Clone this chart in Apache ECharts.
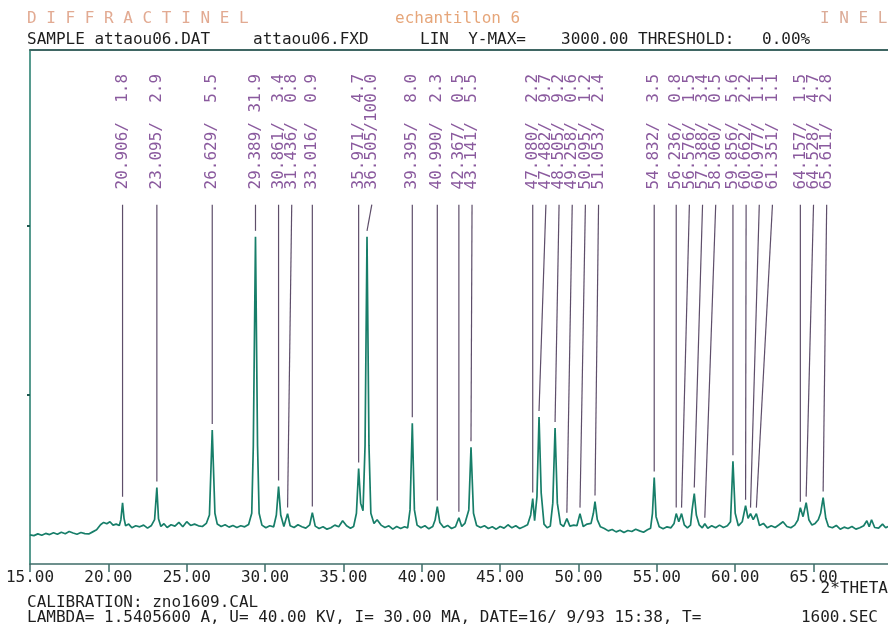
<!DOCTYPE html>
<html>
<head>
<meta charset="utf-8">
<title>attaou06 - diffractogramme</title>
<script src="https://cdn.jsdelivr.net/npm/echarts@6/dist/echarts.min.js"></script>
<style>
html, body { margin: 0; padding: 0; background: #fff; }
#main { width: 888px; height: 630px; }
</style>
</head>
<body>
<div id="main"></div>
<script>
// balayage 2theta / coups
var scanAngle = [
    15.00, 15.25, 15.50, 15.75, 16.00, 16.25, 16.50, 16.75, 17.00, 17.25, 17.50, 17.75, 18.00, 18.25, 18.50, 18.75,
    19.00, 19.25, 19.50, 19.70, 19.90, 20.10, 20.30, 20.50, 20.70, 20.80, 20.906, 21.00, 21.10, 21.30, 21.50, 21.75,
    22.00, 22.25, 22.50, 22.75, 22.95, 23.095, 23.20, 23.35, 23.55, 23.75, 24.00, 24.25, 24.50, 24.75, 25.00, 25.25,
    25.50, 25.75, 26.00, 26.25, 26.45, 26.629, 26.80, 26.95, 27.20, 27.45, 27.70, 27.95, 28.20, 28.45, 28.70, 28.95,
    29.15, 29.25, 29.389, 29.52, 29.62, 29.80, 30.05, 30.30, 30.55, 30.72, 30.861, 31.00, 31.20, 31.436, 31.60, 31.85,
    32.10, 32.35, 32.60, 32.85, 33.016, 33.20, 33.45, 33.70, 33.95, 34.20, 34.45, 34.70, 34.95, 35.20, 35.45, 35.65,
    35.83, 35.971, 36.10, 36.25, 36.38, 36.505, 36.63, 36.75, 36.95, 37.15, 37.40, 37.65, 37.90, 38.15, 38.40, 38.65,
    38.90, 39.10, 39.25, 39.395, 39.53, 39.70, 39.95, 40.20, 40.45, 40.70, 40.85, 40.990, 41.15, 41.40, 41.65, 41.90,
    42.15, 42.367, 42.55, 42.75, 43.00, 43.141, 43.30, 43.50, 43.75, 44.00, 44.25, 44.50, 44.75, 45.00, 45.25, 45.50,
    45.75, 46.00, 46.25, 46.50, 46.75, 46.95, 47.080, 47.20, 47.35, 47.482, 47.62, 47.80, 48.00, 48.20, 48.36, 48.505,
    48.65, 48.85, 49.05, 49.258, 49.45, 49.70, 49.90, 50.095, 50.30, 50.55, 50.80, 50.95, 51.053, 51.20, 51.40, 51.65,
    51.90, 52.15, 52.40, 52.65, 52.90, 53.15, 53.40, 53.65, 53.90, 54.15, 54.40, 54.60, 54.72, 54.832, 54.95, 55.15,
    55.40, 55.65, 55.90, 56.10, 56.236, 56.40, 56.576, 56.75, 56.95, 57.15, 57.25, 57.388, 57.52, 57.70, 57.90, 58.060,
    58.25, 58.50, 58.75, 59.00, 59.25, 59.50, 59.70, 59.856, 60.00, 60.20, 60.45, 60.662, 60.82, 60.977, 61.15, 61.351,
    61.55, 61.80, 62.05, 62.30, 62.55, 62.80, 63.05, 63.30, 63.55, 63.80, 64.00, 64.157, 64.33, 64.528, 64.70, 64.90,
    65.10, 65.30, 65.45, 65.611, 65.78, 65.95, 66.20, 66.45, 66.70, 66.95, 67.20, 67.45, 67.70, 67.95, 68.20, 68.40,
    68.55, 68.70, 68.90, 69.15, 69.40, 69.60, 69.75
];
var scanCounts = [
    172, 168, 178, 170, 181, 174, 185, 176, 188, 179, 192, 183, 176, 186, 180, 178,
    190, 202, 232, 246, 238, 250, 230, 236, 228, 262, 362, 270, 226, 236, 214, 226,
    220, 230, 212, 228, 262, 452, 268, 222, 238, 216, 232, 224, 246, 220, 250, 228,
    236, 226, 222, 240, 290, 792, 300, 236, 222, 232, 218, 228, 216, 226, 220, 234,
    300, 700, 1935, 700, 300, 230, 214, 226, 220, 290, 458, 290, 222, 298, 226, 216,
    232, 220, 212, 232, 304, 224, 210, 220, 206, 214, 230, 220, 256, 226, 212, 222,
    300, 565, 360, 315, 700, 1935, 700, 300, 240, 262, 230, 216, 226, 206, 222, 210,
    220, 214, 320, 833, 320, 230, 214, 226, 208, 222, 260, 340, 246, 216, 228, 210,
    220, 274, 222, 240, 320, 690, 300, 228, 216, 226, 210, 220, 206, 222, 212, 232,
    214, 226, 210, 220, 232, 290, 387, 256, 400, 869, 420, 236, 214, 224, 360, 804,
    360, 236, 222, 268, 224, 230, 226, 298, 222, 236, 240, 300, 369, 262, 220, 210,
    196, 204, 190, 200, 186, 198, 192, 206, 196, 188, 202, 212, 300, 512, 280, 220,
    208, 220, 214, 240, 298, 250, 298, 232, 214, 230, 320, 417, 290, 232, 214, 238,
    212, 226, 214, 230, 216, 226, 250, 607, 300, 226, 250, 345, 270, 298, 262, 298,
    228, 240, 214, 226, 216, 232, 250, 222, 214, 230, 260, 333, 280, 363, 262, 230,
    240, 262, 300, 393, 270, 222, 214, 228, 206, 218, 210, 222, 206, 214, 226, 256,
    220, 262, 216, 212, 236, 214, 222
];

// pics reperes : position, intensite relative, hauteur au sommet
var peakAngle = [20.906, 23.095, 26.629, 29.389, 30.861, 31.436, 33.016, 35.971, 36.505, 39.395, 40.990,
    42.367, 43.141, 47.080, 47.482, 48.505, 49.258, 50.095, 51.053, 54.832, 56.236, 56.576, 57.388, 58.060,
    59.856, 60.662, 60.977, 61.351, 64.157, 64.528, 65.611];
var peakRel = [1.8, 2.9, 5.5, 31.9, 3.4, 0.8, 0.9, 4.7, 100.0, 8.0, 2.3,
    0.5, 5.5, 2.2, 9.7, 9.2, 0.6, 1.2, 2.4, 3.5, 0.8, 1.5, 3.4, 0.5,
    5.6, 2.2, 1.1, 1.1, 1.5, 4.7, 2.8];
var peakTop = [362, 452, 792, 1935, 458, 298, 304, 565, 1935, 833, 340,
    274, 690, 387, 869, 804, 268, 298, 369, 512, 298, 298, 417, 238,
    607, 345, 298, 298, 333, 363, 393];

var xTicks = [15, 20, 25, 30, 35, 40, 45, 50, 55, 60, 65];
var yTicks = [1000, 2000];

var FONT = '"DejaVu Sans Mono", "Liberation Mono", monospace';
var LINE_TOP = 2125;   // haut des traits de reperage (en coups)
var TEXT_BASE = 2215;  // pied des etiquettes (en coups)
var MIN_GAP = 0.84;    // ecart mini entre etiquettes (deg)

// etiquettes ecartees quand les pics sont trop proches
var labelAngle = [];
for (var i = 0; i < peakAngle.length; i++) {
    var a = peakAngle[i];
    if (i > 0 && a - labelAngle[i - 1] < MIN_GAP) a = labelAngle[i - 1] + MIN_GAP;
    labelAngle.push(a);
}
function pad(s, n) { while (s.length < n) s = ' ' + s; return s; }
var peakText = peakAngle.map(function (a, i) {
    return a.toFixed(3) + '/' + pad(peakRel[i].toFixed(1), 5);
});

var scanData = scanAngle.map(function (a, i) { return [a, scanCounts[i]]; });
var peakData = peakAngle.map(function (a, i) { return [a, peakTop[i], labelAngle[i]]; });

function renderPeak(params, api) {
    var top = api.coord([api.value(2), LINE_TOP]);
    var bottom = api.coord([api.value(0), api.value(1)]);
    var txt = api.coord([api.value(2), TEXT_BASE]);
    return {
        type: 'group',
        children: [
            {
                type: 'line',
                shape: { x1: top[0], y1: top[1], x2: bottom[0], y2: bottom[1] - 6 },
                style: { stroke: '#5e4e6a', lineWidth: 1.2 }
            },
            {
                type: 'text',
                x: txt[0], y: txt[1], rotation: Math.PI / 2,
                style: {
                    text: peakText[params.dataIndex],
                    textAlign: 'left', textVerticalAlign: 'middle',
                    fill: '#8a5a9e', font: '16px ' + FONT
                }
            }
        ]
    };
}

function hdr(text, left, top, color) {
    return {
        text: text, left: left, top: top, padding: 0,
        textStyle: { fontFamily: FONT, fontSize: 16, fontWeight: 'normal', color: color }
    };
}

var myChart = echarts.init(document.getElementById('main'));
var option = {
    animation: false,
    backgroundColor: '#fff',
    title: [
        hdr('D I F F R A C T I N E L', 27, 11, '#e2aa92'),
        hdr('echantillon 6', 395, 11, '#e6a67a'),
        hdr('I N E L', 820, 11, '#dcac98'),
        hdr('SAMPLE attaou06.DAT', 27, 32, '#1e1e1e'),
        hdr('attaou06.FXD', 253, 32, '#1e1e1e'),
        hdr('LIN  Y-MAX=', 420, 32, '#1e1e1e'),
        hdr('3000.00 THRESHOLD:', 561, 32, '#1e1e1e'),
        hdr('0.00%', 762, 32, '#1e1e1e'),
        { text: '2*THETA', right: 0, top: 581, padding: 0,
          textStyle: { fontFamily: FONT, fontSize: 16, fontWeight: 'normal', color: '#1e1e1e' } },
        hdr('CALIBRATION: zno1609.CAL', 27, 595, '#1e1e1e'),
        hdr('LAMBDA= 1.5405600 A, U= 40.00 KV, I= 30.00 MA, DATE=16/ 9/93 15:38, T=', 27, 610, '#1e1e1e'),
        { text: '1600.SEC', right: 10, top: 610, padding: 0,
          textStyle: { fontFamily: FONT, fontSize: 16, fontWeight: 'normal', color: '#1e1e1e' } }
    ],
    grid: { left: 30, right: 0, top: 50, bottom: 66 },
    xAxis: [
        {
            type: 'value', min: 15, max: 69.75, interval: 5,
            splitLine: { show: false },
            axisLine: { lineStyle: { color: '#3e6c68', width: 1.5 } },
            axisTick: { customValues: xTicks, length: 8, lineStyle: { color: '#3e6c68', width: 1.5 } },
            axisLabel: {
                customValues: xTicks, margin: 6,
                formatter: function (v) { return v.toFixed(2); },
                fontFamily: FONT, fontSize: 16, color: '#222'
            }
        },
        {
            type: 'value', position: 'top', min: 15, max: 69.75,
            splitLine: { show: false },
            axisLine: { lineStyle: { color: '#3f6663', width: 2 } },
            axisTick: { show: false }, axisLabel: { show: false }
        }
    ],
    yAxis: {
        type: 'value', min: 0, max: 3040,
        splitLine: { show: false },
        axisLine: { show: true, lineStyle: { color: '#1f7a6a', width: 1.5 } },
        axisTick: { customValues: yTicks, length: 3, lineStyle: { color: '#1f5a50', width: 2 } },
        axisLabel: { show: false }
    },
    series: [
        {
            type: 'line',
            data: scanData,
            showSymbol: false,
            lineStyle: { color: '#177e69', width: 1.7 }
        },
        {
            type: 'custom',
            data: peakData,
            renderItem: renderPeak,
            z: 3
        }
    ]
};
myChart.setOption(option);
</script>
</body>
</html>
